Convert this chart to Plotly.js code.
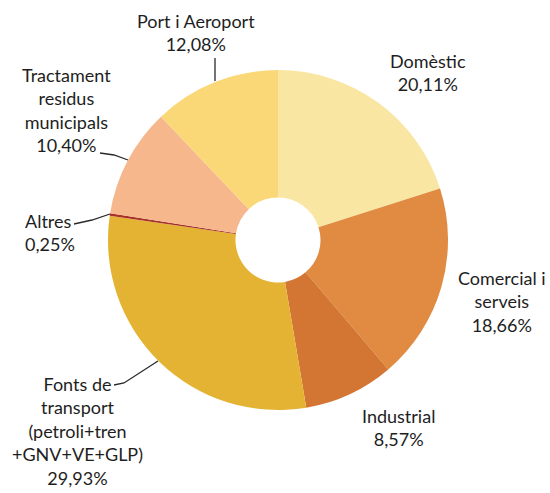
<!DOCTYPE html>
<html>
<head>
<meta charset="utf-8">
<script src="https://cdn.plot.ly/plotly-3.0.1.min.js"></script>
<style>
  html, body { margin: 0; padding: 0; background: #fff; }
  #chart { width: 550px; height: 493px; }
</style>
</head>
<body>
<div id="chart"></div>
<script>
// slice data, clockwise from 12 o'clock
const sectors = ['Domèstic', 'Comercial i serveis', 'Industrial',
	'Fonts de transport (petroli+tren +GNV+VE+GLP)', 'Altres',
	'Tractament residus municipals', 'Port i Aeroport'];
const shares = [20.11, 18.66, 8.57, 29.93, 0.25, 10.40, 12.08];
const labelLines = [
	['Domèstic'],
	['Comercial i', 'serveis'],
	['Industrial'],
	['Fonts de', 'transport', '(petroli+tren', '+GNV+VE+GLP)'],
	['Altres'],
	['Tractament', 'residus', 'municipals'],
	['Port i Aeroport'],
];
const sliceColors = ['#f9e6a2', '#e08a42', '#d37533', '#e4b334', '#a8312a', '#f5b78b', '#fad878'];

// page is 550x493, margins 0 -> helpers to go from pixels to paper coords
const W = 550, H = 493;
const px = x => x / W;
const py = y => 1 - y / H;

// label block centres (pixels) and leader lines
const labelPos = [
	{ x: 428, y: 72 },
	{ x: 502, y: 301 },
	{ x: 398, y: 427 },
	{ x: 77, y: 431 },
	{ x: 47, y: 233, align: 'left', left: 23 },
	{ x: 66, y: 110 },
	{ x: 196, y: 33 },
];
const leaders = [
	[[215, 58], [215, 81]],
	[[100, 153], [114, 155], [128, 160]],
	[[74, 224], [92, 220], [110, 214]],
	[[114, 385], [124, 383], [158, 361]],
];

const fmt = v => v.toFixed(2).replace('.', ',') + '%';

const cx = 278, cy = 240, R = 170;

const data = [{
	type: 'pie',
	labels: sectors,
	values: shares,
	sort: false,
	direction: 'clockwise',
	rotation: 0,
	hole: 0.25,
	textinfo: 'none',
	hoverinfo: 'label+percent',
	marker: { colors: sliceColors, line: { width: 0 } },
	domain: {
		x: [px(cx - R), px(cx + R)],
		y: [py(cy + R), py(cy - R)],
	},
	showlegend: false,
}];

const annotations = labelPos.map((p, i) => {
	const text = labelLines[i].concat([fmt(shares[i])]).join('<br>');
	const a = {
		xref: 'paper', yref: 'paper',
		x: px(p.x), y: py(p.y),
		xanchor: 'center', yanchor: 'middle',
		text,
		showarrow: false,
		align: p.align || 'center',
		font: { family: 'Lato, "Open Sans", sans-serif', size: 18, color: '#1e1e1e' },
	};
	if ( p.left !== undefined ){
		a.x = px(p.left);
		a.xanchor = 'left';
	}
	return a;
});

const shapes = leaders.map(pts => ({
	type: 'path',
	xref: 'paper', yref: 'paper',
	path: 'M' + pts.map(([x, y]) => `${px(x)},${py(y)}`).join(' L'),
	line: { color: '#2a2a2a', width: 1.3 },
}));

const layout = {
	width: W,
	height: H,
	margin: { l: 0, r: 0, t: 0, b: 0 },
	paper_bgcolor: '#fff',
	annotations,
	shapes,
};

Plotly.newPlot('chart', data, layout, { displayModeBar: false, staticPlot: true });
</script>
</body>
</html>
